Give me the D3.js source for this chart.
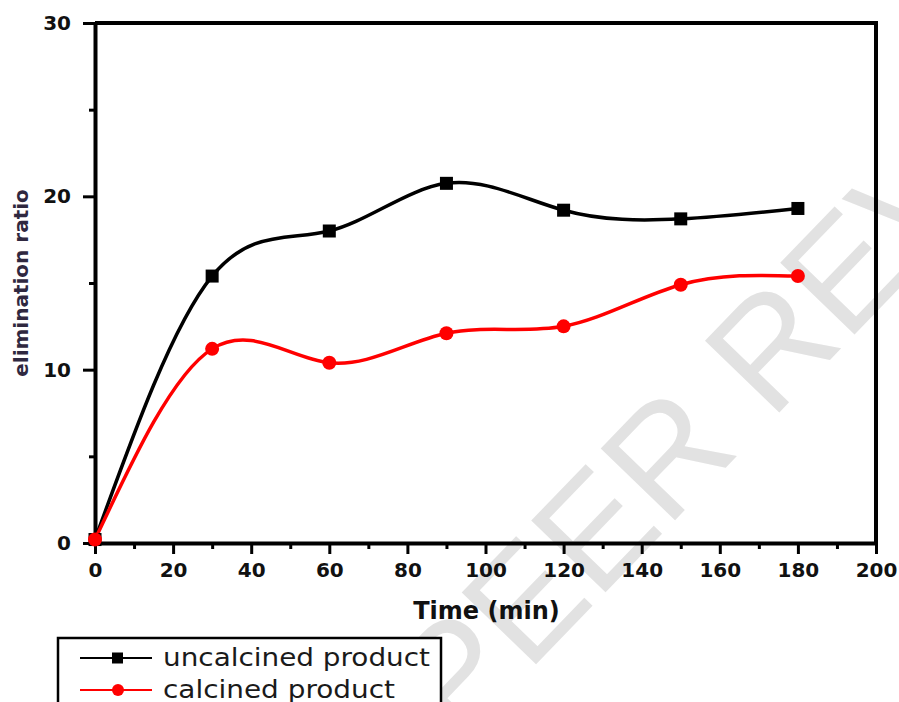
<!DOCTYPE html>
<html lang="en">
  <head>
    <meta charset="utf-8">
    <title>Elimination ratio vs time</title>
    <style>
      body { margin: 0; background: #fff; }
      svg { display: block; }
    </style>
  </head>
  <body>
    <svg width="899" height="702"></svg>
    <script src="https://cdn.jsdelivr.net/npm/d3@7/dist/d3.min.js"></script>
    <script>
      // data
      const times = [0, 30, 60, 90, 120, 150, 180];
      const uncalcined = [0.2, 15.4, 18.0, 20.75, 19.2, 18.7, 19.3];
      const calcined = [0.2, 11.2, 10.4, 12.1, 12.5, 14.9, 15.4];
      const series_names = ['uncalcined product', 'calcined product'];
      const x_ticks = [0, 20, 40, 60, 80, 100, 120, 140, 160, 180, 200];
      const y_ticks = [0, 10, 20, 30];

      const svg = d3.select('svg');
      const margin = {top: 23, right: 23, bottom: 159, left: 95};
      const svg_width = +svg.attr('width');
      const svg_height = +svg.attr('height');

      const x_scale = d3.scaleLinear()
        .domain([0, 200])
        .range([margin.left, svg_width - margin.right]);
      const y_scale = d3.scaleLinear()
        .domain([0, 30])
        .range([svg_height - margin.bottom, margin.top]);

      // watermark behind everything
      svg.append('text')
        .attr('transform', 'translate(458,745) rotate(-46)')
        .attr('font-family', 'Liberation Sans, Arial, sans-serif')
        .attr('font-size', 150)
        .attr('fill', '#e2e2e2')
        .text('PEER REVIEW');

      const tick_font = 'DejaVu Sans, sans-serif';

      // x axis with minor ticks
      const x_minor = d3.axisBottom(x_scale)
        .tickValues(d3.range(10, 200, 20))
        .tickSize(6).tickFormat('');
      svg.append('g')
        .attr('transform', `translate(0,${y_scale(0)})`)
        .call(x_minor)
        .call(g => g.select('.domain').remove())
        .selectAll('line').attr('stroke-width', 3);

      const x_axis = d3.axisBottom(x_scale)
        .tickValues(x_ticks)
        .tickSize(11).tickSizeOuter(0).tickPadding(9);
      const x_g = svg.append('g')
        .attr('transform', `translate(0,${y_scale(0)})`)
        .call(x_axis);
      x_g.select('.domain').attr('stroke-width', 4);
      x_g.selectAll('line').attr('stroke-width', 3);
      x_g.selectAll('text')
        .attr('font-family', tick_font)
        .attr('font-weight', 'bold')
        .attr('font-size', 20)
        .attr('fill', '#111');

      // y axis with minor ticks
      const y_minor = d3.axisLeft(y_scale)
        .tickValues([5, 15, 25])
        .tickSize(6).tickFormat('');
      svg.append('g')
        .attr('transform', `translate(${x_scale(0)},0)`)
        .call(y_minor)
        .call(g => g.select('.domain').remove())
        .selectAll('line').attr('stroke-width', 3);

      const y_axis = d3.axisLeft(y_scale)
        .tickValues(y_ticks)
        .tickSize(12).tickSizeOuter(0).tickPadding(12);
      const y_g = svg.append('g')
        .attr('transform', `translate(${x_scale(0)},0)`)
        .call(y_axis);
      y_g.select('.domain').attr('stroke-width', 4);
      y_g.selectAll('line').attr('stroke-width', 3);
      y_g.selectAll('text')
        .attr('font-family', tick_font)
        .attr('font-weight', 'bold')
        .attr('font-size', 20)
        .attr('fill', '#111');

      // top and right frame
      svg.append('path')
        .attr('d', `M${x_scale(0)},${y_scale(30)}H${x_scale(200)}V${y_scale(0)}`)
        .attr('fill', 'none')
        .attr('stroke', '#000')
        .attr('stroke-width', 4);

      // axis titles
      svg.append('text')
        .attr('x', (x_scale(0) + x_scale(200)) / 2 + 1)
        .attr('y', 619)
        .attr('text-anchor', 'middle')
        .attr('font-family', tick_font)
        .attr('font-weight', 'bold')
        .attr('font-size', 24)
        .attr('fill', '#111')
        .text('Time (min)');

      svg.append('text')
        .attr('transform', `translate(28,${(y_scale(0) + y_scale(30)) / 2}) rotate(-90)`)
        .attr('text-anchor', 'middle')
        .attr('font-family', tick_font)
        .attr('font-weight', 'bold')
        .attr('font-size', 20)
        .attr('fill', '#2f2840')
        .text('elimination ratio');

      // lines
      const line = d3.line()
        .x((d, i) => x_scale(times[i]))
        .y(d => y_scale(d))
        .curve(d3.curveNatural);

      svg.append('path')
        .datum(uncalcined)
        .attr('d', line)
        .attr('fill', 'none')
        .attr('stroke', '#000')
        .attr('stroke-width', 3.5);

      svg.append('path')
        .datum(calcined)
        .attr('d', line)
        .attr('fill', 'none')
        .attr('stroke', '#ff0000')
        .attr('stroke-width', 3.5);

      // markers
      svg.append('g').selectAll('rect')
        .data(uncalcined).enter()
        .append('rect')
        .attr('x', (d, i) => x_scale(times[i]) - 6.5)
        .attr('y', d => y_scale(d) - 6.5)
        .attr('width', 13)
        .attr('height', 13)
        .attr('fill', '#000');

      svg.append('g').selectAll('circle')
        .data(calcined).enter()
        .append('circle')
        .attr('cx', (d, i) => x_scale(times[i]))
        .attr('cy', d => y_scale(d))
        .attr('r', 7)
        .attr('fill', '#ff0000');

      // legend (runs off the bottom edge like the source)
      const legend = svg.append('g');
      legend.append('rect')
        .attr('x', 58).attr('y', 638)
        .attr('width', 383).attr('height', 80)
        .attr('fill', '#fff')
        .attr('stroke', '#000')
        .attr('stroke-width', 2.5);

      const legend_rows = [
        {name: series_names[0], color: '#000', shape: 'square', y: 658, len: 267},
        {name: series_names[1], color: '#ff0000', shape: 'circle', y: 690, len: 232}
      ];
      legend_rows.forEach(r => {
        legend.append('line')
          .attr('x1', 80).attr('x2', 152)
          .attr('y1', r.y).attr('y2', r.y)
          .attr('stroke', r.color)
          .attr('stroke-width', 2);
        if (r.shape === 'square') {
          legend.append('rect')
            .attr('x', 112).attr('y', r.y - 5.5)
            .attr('width', 11).attr('height', 11)
            .attr('fill', r.color);
        } else {
          legend.append('circle')
            .attr('cx', 118).attr('cy', r.y)
            .attr('r', 6)
            .attr('fill', r.color);
        }
        legend.append('text')
          .attr('x', 163).attr('y', r.y + 8)
          .attr('font-family', 'DejaVu Sans, sans-serif')
          .attr('font-size', 24)
          .attr('fill', '#1a1a1a')
          .attr('textLength', r.len)
          .attr('lengthAdjust', 'spacingAndGlyphs')
          .text(r.name);
      });
    </script>
  </body>
</html>
